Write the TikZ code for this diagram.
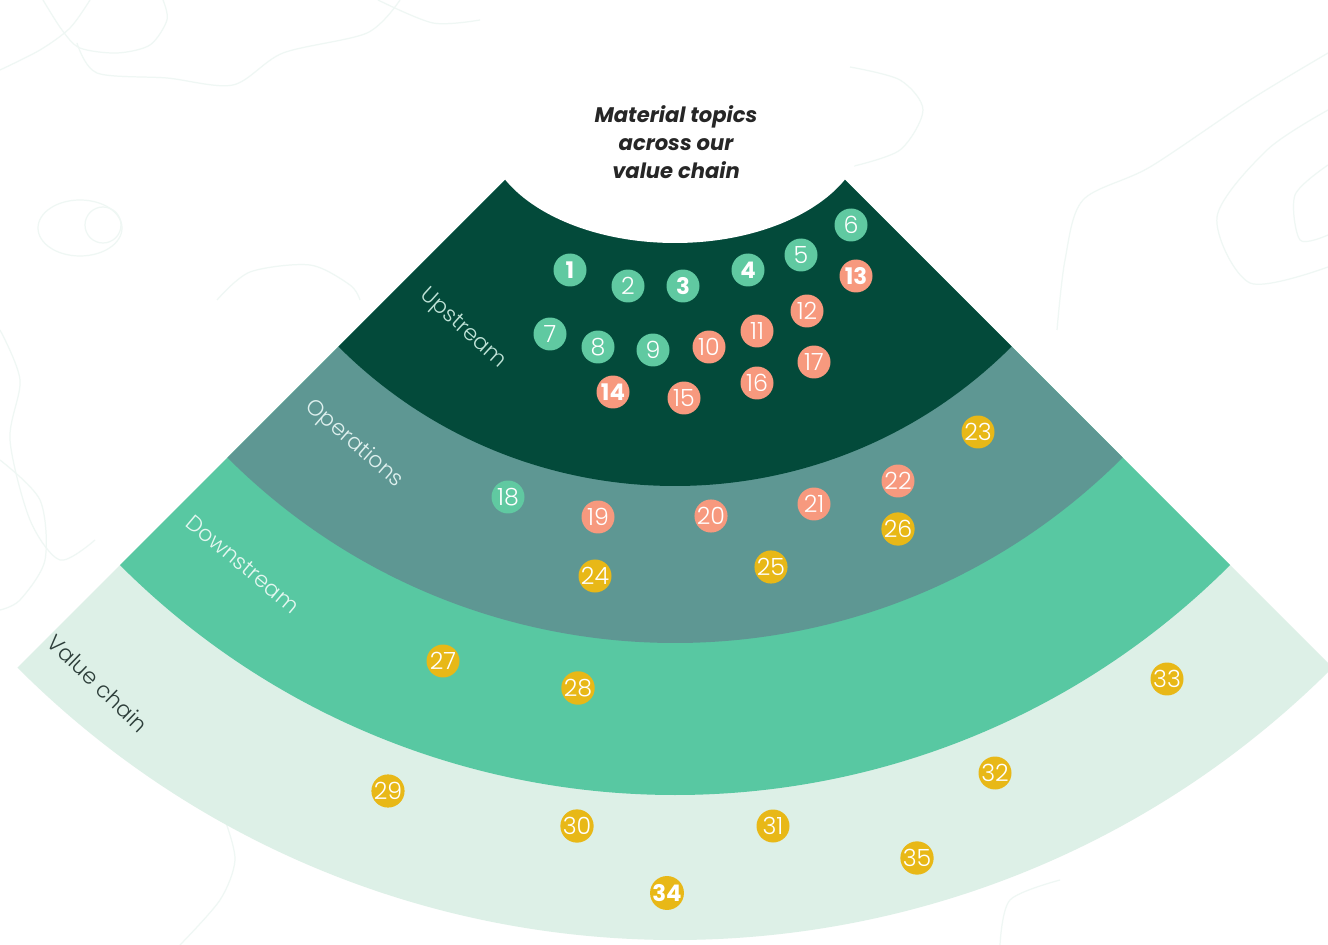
\documentclass[tikz,border=0pt]{standalone}
\usepackage{fontspec}
\setmainfont{Poppins}
\newfontfamily\lightfont{Poppins Light}
\usetikzlibrary{calc}
\definecolor{cup}{RGB}{3,74,58}
\definecolor{cops}{RGB}{94,151,147}
\definecolor{cdown}{RGB}{88,200,162}
\definecolor{cval}{RGB}{221,240,231}
\definecolor{cgreen}{RGB}{96,201,161}
\definecolor{csalmon}{RGB}{247,153,126}
\definecolor{cgold}{RGB}{232,184,23}
\definecolor{ccontour}{RGB}{239,247,244}
\begin{document}
\begin{tikzpicture}[x=0.02cm,y=-0.02cm,
  num/.style={circle, inner sep=0pt, minimum size=0.66cm, text=white,
    font=\lightfont\fontsize{13.5}{13.5}\selectfont},
  bnum/.style={num, font=\bfseries\fontsize{13}{13}\selectfont},
  ng/.style={num, fill=cgreen}, ngb/.style={bnum, fill=cgreen},
  ns/.style={num, fill=csalmon}, nsb/.style={bnum, fill=csalmon},
  ny/.style={num, fill=cgold}, nyb/.style={bnum, fill=cgold},
  lab/.style={font=\lightfont\fontsize{12.5}{14}\selectfont, inner sep=0pt},
  contour/.style={draw=ccontour, line width=0.7pt}
]
\useasboundingbox (0,0) rectangle (1328,945);
\fill[white] (0,0) rectangle (1328,945);
% faint background contours
\draw[contour] plot[smooth] coordinates {(0,70) (40,50) (70,28) (90,0)};
\draw[contour] plot[smooth] coordinates {(43,0) (62,30) (80,48) (117,53) (150,45) (167,20) (163,0)};
\draw[contour] plot[smooth] coordinates {(77,43) (97,73) (167,78) (233,85) (283,53) (367,33) (400,0)};
\draw[contour] plot[smooth] coordinates {(378,0) (433,23) (480,20)};
\draw[contour] (80,228) ellipse[x radius=42, y radius=28];
\draw[contour] (103,225) circle[radius=18];
\draw[contour] plot[smooth] coordinates {(217,300) (250,272) (310,265) (350,285) (360,300)};
\draw[contour] plot[smooth] coordinates {(0,330) (20,380) (10,440) (30,520) (60,560) (95,540)};
\draw[contour] plot[smooth] coordinates {(0,460) (40,500) (45,560) (20,600) (0,610)};
\draw[contour] plot[smooth] coordinates {(850,67) (900,80) (923,110) (900,150) (850,167)};
\draw[contour] plot[smooth] coordinates {(1057,330) (1065,260) (1083,200) (1150,167) (1250,100) (1328,53)};
\draw[contour] plot[smooth] coordinates {(1328,110) (1267,150) (1217,217) (1250,283) (1328,267)};
\draw[contour] plot[smooth] coordinates {(1328,165) (1295,195) (1300,240) (1328,235)};
\draw[contour] plot[smooth] coordinates {(1000,945) (1010,900) (1060,880)};
\draw[contour] plot[smooth] coordinates {(180,945) (220,900) (235,860) (225,820)};
% sector bands
\coordinate (A) at (675,10);
\begin{scope}
\clip (0,0) rectangle (1328,945);
\fill[cval] (A) -- ++(45:930) arc[start angle=45, end angle=135, radius=930] -- cycle;
\fill[cdown] (A) -- ++(45:785) arc[start angle=45, end angle=135, radius=785] -- cycle;
\fill[cops] (A) -- ++(45:633) arc[start angle=45, end angle=135, radius=633] -- cycle;
\fill[cup] (A) -- ++(45:476) arc[start angle=45, end angle=135, radius=476] -- cycle;
\fill[white] (675,130) ellipse[x radius=189, y radius=113];
\fill[white] (620,0) rectangle (730,40);
\end{scope}
% title
\node[align=center, font=\bfseries\itshape\fontsize{12}{16}\selectfont, text=black!85] (title) at (676,142) {Material topics\\across our\\value chain};
% band labels
\node[lab, text={rgb,255:red,190;green,226;blue,214}, rotate=-42] (lup) at (463,329) {Upstream};
\node[lab, text={rgb,255:red,222;green,240;blue,238}, rotate=-41] (lops) at (354,444) {Operations};
\node[lab, text={rgb,255:red,228;green,247;blue,240}, rotate=-40] (ldown) at (243,564) {Downstream};
\node[lab, text={rgb,255:red,45;green,62;blue,58}, rotate=-44] (lval) at (98,683) {Value chain};
% topic markers
\node[ngb] (n1) at (570,270) {1};
\node[ng] (n2) at (628,286) {2};
\node[ngb] (n3) at (683,286) {3};
\node[ngb] (n4) at (748,270) {4};
\node[ng] (n5) at (801,255) {5};
\node[ng] (n6) at (851,225) {6};
\node[ng] (n7) at (550,334) {7};
\node[ng] (n8) at (598,347) {8};
\node[ng] (n9) at (653,350) {9};
\node[ns] (n10) at (709,347) {10};
\node[ns] (n11) at (757,331) {11};
\node[ns] (n12) at (807,311) {12};
\node[nsb] (n13) at (856,276) {13};
\node[nsb] (n14) at (613,392) {14};
\node[ns] (n15) at (684,398) {15};
\node[ns] (n16) at (757,383) {16};
\node[ns] (n17) at (814,362) {17};
\node[ng] (n18) at (508,497) {18};
\node[ns] (n19) at (598,517) {19};
\node[ns] (n20) at (711,516) {20};
\node[ns] (n21) at (814,504) {21};
\node[ns] (n22) at (898,481) {22};
\node[ny] (n23) at (978,432) {23};
\node[ny] (n24) at (595,576) {24};
\node[ny] (n25) at (771,567) {25};
\node[ny] (n26) at (898,529) {26};
\node[ny] (n27) at (443,661) {27};
\node[ny] (n28) at (578,688) {28};
\node[ny] (n29) at (388,791) {29};
\node[ny] (n30) at (577,826) {30};
\node[ny] (n31) at (773,826) {31};
\node[ny] (n32) at (995,773) {32};
\node[ny] (n33) at (1167,679) {33};
\node[nyb] (n34) at (667,893) {34};
\node[ny] (n35) at (917,858) {35};
\end{tikzpicture}
\end{document}
